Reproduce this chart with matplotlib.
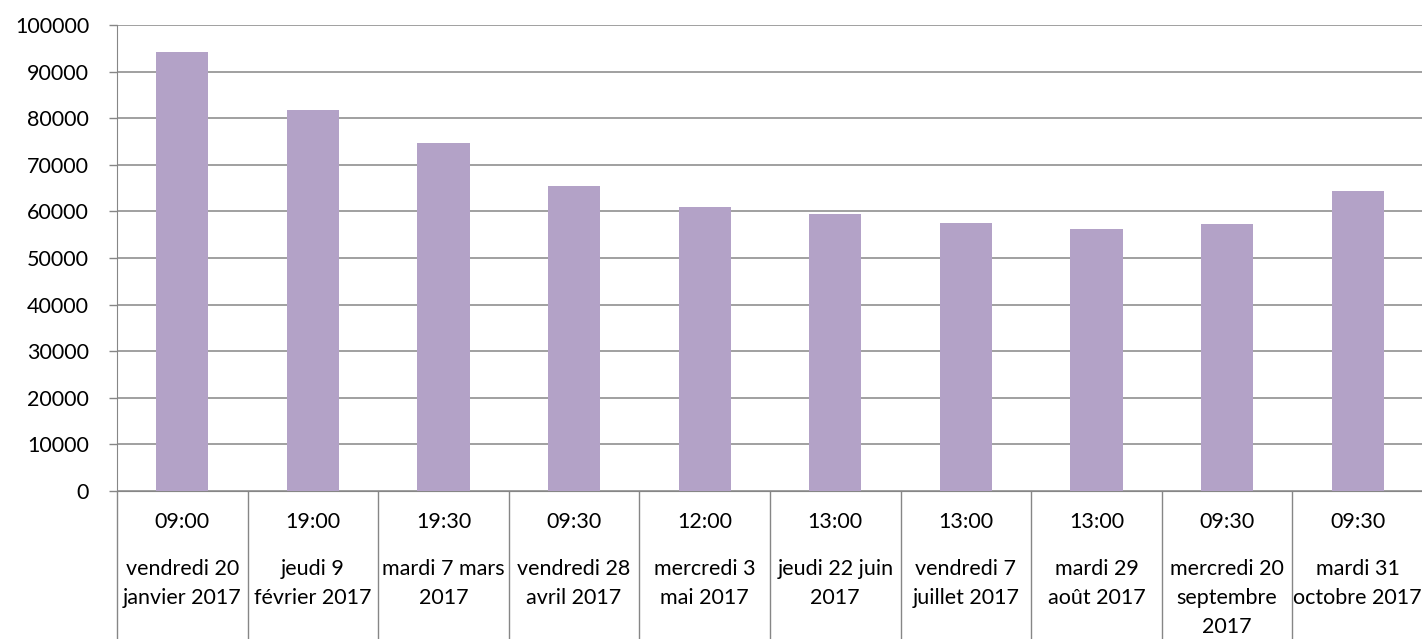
import matplotlib
matplotlib.use("Agg")
import matplotlib.pyplot as plt
import numpy as np

plt.rcParams['font.family'] = ['Lato', 'DejaVu Sans']

heures = ["09:00", "19:00", "19:30", "09:30", "12:00",
          "13:00", "13:00", "13:00", "09:30", "09:30"]
dates = ["vendredi 20\njanvier 2017", "jeudi 9\nfévrier 2017",
         "mardi 7 mars\n2017", "vendredi 28\navril 2017",
         "mercredi 3\nmai 2017", "jeudi 22 juin\n2017",
         "vendredi 7\njuillet 2017", "mardi 29\naoût 2017",
         "mercredi 20\nseptembre\n2017", "mardi 31\noctobre 2017"]
valeurs = [94200, 81800, 74700, 65450, 61000, 59450, 57500, 56200, 57300, 64400]

gris = "#868686"
taille = 15.5

fig = plt.figure(figsize=(14.22, 6.39), dpi=100)
ax = fig.add_axes([117/1422, 1 - 491/639, 1306/1422, 466/639])

x = np.arange(len(valeurs))
ax.bar(x, valeurs, width=0.4, color="#B3A2C7", zorder=3)

ax.set_xlim(-0.5, len(valeurs) - 0.5)
ax.set_ylim(0, 100000)
ax.set_yticks(np.arange(0, 100001, 10000))
ax.yaxis.grid(True, color=gris, linewidth=1.1)
ax.set_axisbelow(True)
ax.tick_params(axis='y', length=6, width=1, color=gris, labelsize=taille, pad=14)
ax.tick_params(axis='x', bottom=False, labelbottom=False)
for s in ["top", "right"]:
    ax.spines[s].set_visible(False)
ax.spines["left"].set_color(gris)
ax.spines["bottom"].set_color(gris)

# axe des categories a deux niveaux
tr = ax.get_xaxis_transform()
ax.vlines(np.arange(-0.5, len(valeurs)), 0, -148/466, transform=tr,
          colors=gris, linewidth=1.0, clip_on=False)
ax.axhline(-47/466, color="#f2f2f2", linewidth=1.0, clip_on=False, zorder=0)
for i in range(len(valeurs)):
    ax.text(i, -31/466, heures[i], transform=tr, ha='center', va='center',
            fontsize=taille)
    ax.text(i, -68/466, dates[i], transform=tr, ha='center', va='top',
            fontsize=taille, linespacing=1.55)

fig.savefig("out.png", dpi=100)
